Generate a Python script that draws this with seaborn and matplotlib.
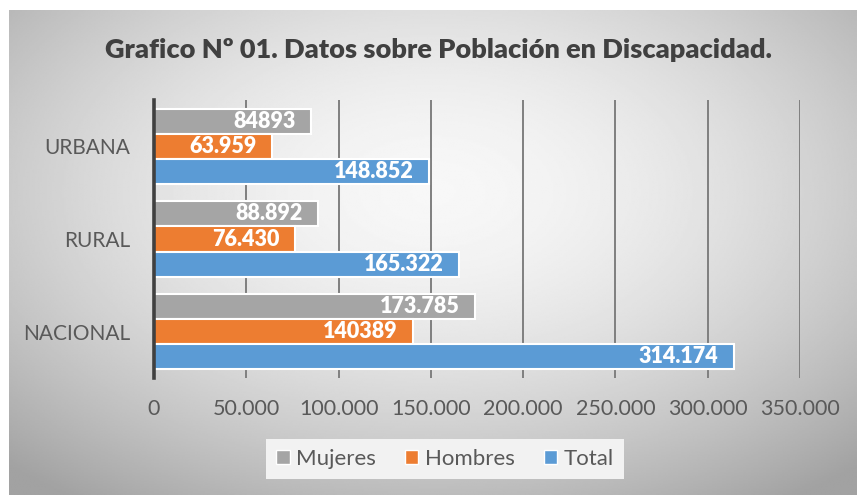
import numpy as np
import pandas as pd
import seaborn as sns
import matplotlib.pyplot as plt
from matplotlib.patches import Patch
from matplotlib.ticker import FuncFormatter

# datos
zonas = ["URBANA", "RURAL", "NACIONAL"]
series = ["Mujeres", "Hombres", "Total"]
mujeres = [84893, 88892, 173785]
hombres = [63959, 76430, 140389]
total = [148852, 165322, 314174]
# etiquetas tal como aparecen en el grafico original
etiquetas = {
    "Mujeres": ["84893", "88.892", "173.785"],
    "Hombres": ["63.959", "76.430", "140389"],
    "Total": ["148.852", "165.322", "314.174"],
}
colores = ["#A5A5A5", "#ED7D31", "#5B9BD5"]

df = pd.DataFrame({
    "zona": zonas * 3,
    "serie": np.repeat(series, 3),
    "valor": mujeres + hombres + total,
})

sns.set_style("white")
plt.rcParams["font.family"] = ["Lato", "DejaVu Sans"]

fig = plt.figure(figsize=(8.57, 4.95), dpi=100)

# fondo con degradado radial
bg = fig.add_axes([9 / 857, 0, 1 - 9 / 857, 1 - 10 / 495], zorder=-10)
yy, xx = np.mgrid[-1:1:300j, -1:1:500j]
r = np.sqrt((xx * 0.95) ** 2 + ((yy + 0.25) * 0.9) ** 2)
grad = 0.97 - 0.19 * np.clip(r, 0, 1.4) ** 1.7
bg.imshow(grad, cmap="gray", vmin=0, vmax=1, aspect="auto",
          extent=[0, 1, 0, 1], interpolation="bilinear")
bg.axis("off")

ax = fig.add_axes([154 / 857, 1 - 378 / 495, (800 - 154) / 857, 278 / 495])
ax.patch.set_alpha(0)

sns.barplot(data=df, y="zona", x="valor", hue="serie", order=zonas,
            hue_order=series, palette=colores, orient="h", width=0.81,
            saturation=1, edgecolor="white", linewidth=1.5, legend=False,
            ax=ax, zorder=3)

ax.set_xlim(0, 350000)
ax.set_ylim(2.5, -0.5)
ax.set_xticks(np.arange(0, 350001, 50000))
ax.xaxis.set_major_formatter(FuncFormatter(
    lambda v, p: "0" if v == 0 else f"{int(v):,}".replace(",", ".")))
ax.set_xlabel("")
ax.set_ylabel("")
ax.grid(axis="x", color="#7f7f7f", lw=1.4)
ax.set_axisbelow(True)
for s in ["top", "right", "bottom"]:
    ax.spines[s].set_visible(False)
ax.spines["left"].set_color("#404040")
ax.spines["left"].set_linewidth(2.6)
ax.spines["left"].set_zorder(5)
ax.tick_params(axis="x", length=0, pad=15, labelsize=15.5, labelcolor="#595959")
ax.tick_params(axis="y", length=0, pad=17, labelsize=15, labelcolor="#595959")

# etiquetas de datos dentro de la barra
for cont, serie in zip(ax.containers, series):
    for bar, txt in zip(cont, etiquetas[serie]):
        ax.annotate(txt, xy=(bar.get_width(), bar.get_y() + bar.get_height() / 2),
                    xytext=(-11, 0), textcoords="offset points", ha="right",
                    va="center", color="white", fontsize=15.5, fontweight="heavy",
                    zorder=6)

fig.text(0.512, 1 - 50 / 495, "Grafico Nº 01. Datos sobre Población en Discapacidad.",
         ha="center", va="center", fontsize=19.5, fontweight="heavy", color="#404040")

handles = [Patch(facecolor=c, edgecolor="white", lw=1) for c in colores]
leg = fig.legend(handles, series, loc="center", bbox_to_anchor=(445 / 857, 1 - 459 / 495),
                 ncol=3, frameon=True, fontsize=16, handlelength=0.6,
                 handleheight=0.6, handletextpad=0.3, columnspacing=1.3,
                 borderpad=0.45, fancybox=False)
leg.get_frame().set_facecolor("#f2f2f2")
leg.get_frame().set_edgecolor("none")
leg.get_frame().set_alpha(1)
for t in leg.get_texts():
    t.set_color("#595959")

fig.savefig("out.png", dpi=100, facecolor="white")
